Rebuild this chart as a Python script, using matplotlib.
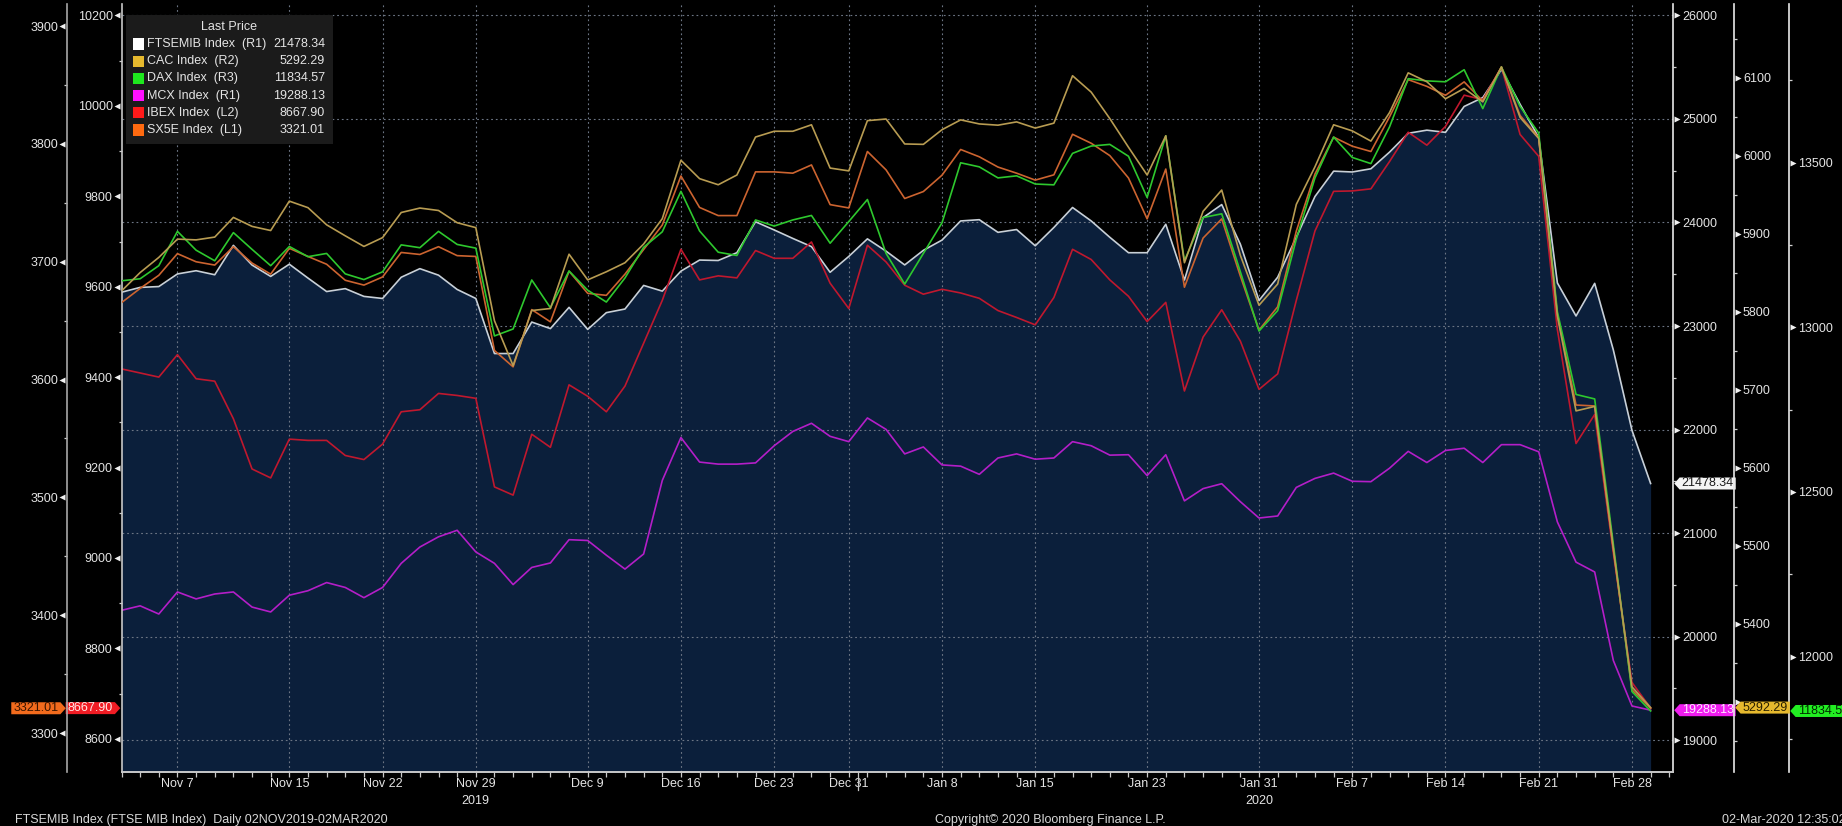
import numpy as np
import pandas as pd
import matplotlib
matplotlib.use("Agg")
import matplotlib.pyplot as plt
import matplotlib.transforms as mtransforms
from matplotlib.path import Path
from matplotlib.patches import Rectangle
from matplotlib.ticker import MultipleLocator

plt.rcParams['font.family'] = ['Liberation Sans', 'DejaVu Sans']

# trading days (Borsa Italiana calendar)
trading = pd.bdate_range('2019-11-04', '2020-03-02')
trading = trading.drop(pd.to_datetime(['2019-12-25', '2019-12-26', '2020-01-01']))

tick_dates = ['2019-11-07', '2019-11-15', '2019-11-22', '2019-11-29', '2019-12-09',
              '2019-12-16', '2019-12-23', '2019-12-31', '2020-01-08', '2020-01-15',
              '2020-01-23', '2020-01-31', '2020-02-07', '2020-02-14', '2020-02-21',
              '2020-02-28']
tick_labels = ['Nov 7', 'Nov 15', 'Nov 22', 'Nov 29', 'Dec 9', 'Dec 16', 'Dec 23',
               'Dec 31', 'Jan 8', 'Jan 15', 'Jan 23', 'Jan 31', 'Feb 7', 'Feb 14',
               'Feb 21', 'Feb 28']
year_dates = ['2019-11-29', '2020-01-31']
year_labels = ['2019', '2020']

ftsemib = [23326, 23373, 23381, 23503, 23534, 23495, 23779, 23589, 23479, 23597,
           23463, 23333, 23361, 23286, 23266, 23471, 23554, 23491, 23353, 23266,
           22734, 22734, 23038, 22975, 23180, 22967, 23129, 23164, 23392, 23337,
           23530, 23637, 23633, 23708, 24007, 23928, 23846, 23767, 23519, 23672,
           23842, 23723, 23590, 23731, 23830, 24015, 24027, 23905, 23932, 23775,
           23952, 24145, 24015, 23857, 23708, 23708, 23983, 23444, 24047, 24173,
           23790, 23247, 23471, 23857, 24251, 24496, 24488, 24519, 24680, 24862,
           24892, 24871, 25121, 25207, 25479, 25142, 24819, 23416, 23097, 23412,
           22769, 21992, 21478.34]

cac = [5826.6, 5850.2, 5869.6, 5893.1, 5892.1, 5895.7, 5920.9, 5909.4, 5904.1, 5941.8,
       5933.4, 5911.4, 5897.3, 5883.7, 5895.0, 5927.2, 5932.9, 5929.8, 5914.1, 5907.8,
       5788.4, 5730.8, 5801.5, 5804.1, 5873.7, 5840.8, 5851.2, 5862.8, 5886.8, 5919.3,
       5994.2, 5970.6, 5962.8, 5975.3, 6024.0, 6031.4, 6031.4, 6039.7, 5984.2, 5980.6,
       6045.0, 6047.1, 6015.1, 6014.6, 6033.4, 6046.0, 6040.8, 6039.2, 6043.4, 6035.5,
       6041.8, 6102.6, 6081.6, 6047.6, 6010.9, 5975.3, 6025.6, 5862.8, 5928.7, 5956.0,
       5872.2, 5808.3, 5835.5, 5937.6, 5985.8, 6039.7, 6031.9, 6018.8, 6055.4, 6106.3,
       6094.9, 6073.1, 6086.3, 6069.1, 6113.8, 6049.1, 6022.1, 5794.2, 5672.8, 5678.5,
       5496.4, 5318.9, 5292.29]

dax = [13140.8, 13147.0, 13186.7, 13290.9, 13233.8, 13201.6, 13287.1, 13236.3, 13186.7, 13245.0,
       13214.0, 13223.9, 13161.9, 13144.5, 13168.1, 13249.9, 13241.3, 13290.9, 13251.2, 13240.0,
       12973.4, 12994.5, 13143.3, 13059.0, 13170.6, 13112.3, 13076.3, 13149.5, 13242.5, 13289.6,
       13412.4, 13292.1, 13227.6, 13217.7, 13325.6, 13307.0, 13325.6, 13339.2, 13254.9, 13320.6,
       13387.6, 13223.9, 13130.9, 13223.9, 13316.9, 13499.2, 13486.8, 13453.3, 13459.5, 13434.7,
       13432.2, 13527.7, 13550.0, 13555.0, 13519.0, 13393.8, 13581.0, 13201.6, 13333.0, 13344.2,
       13168.1, 12988.3, 13050.3, 13267.3, 13453.3, 13577.3, 13515.3, 13496.7, 13608.3, 13754.6,
       13747.8, 13745.1, 13781.7, 13663.7, 13789.9, 13670.5, 13589.1, 13046.6, 12795.7, 12782.1,
       12341.3, 11893.7, 11834.57]

mcx = [20253.0, 20296.4, 20217.4, 20430.5, 20363.4, 20410.8, 20430.5, 20284.5, 20237.2, 20399.0,
       20442.4, 20521.3, 20473.9, 20375.3, 20473.9, 20706.8, 20864.6, 20963.2, 21026.4, 20817.2,
       20706.8, 20501.6, 20667.3, 20710.7, 20935.6, 20927.7, 20785.7, 20651.5, 20797.5, 21507.8,
       21922.1, 21685.4, 21665.6, 21665.6, 21677.5, 21843.2, 21981.3, 22060.2, 21934.0, 21882.7,
       22111.5, 22001.0, 21764.3, 21831.4, 21657.7, 21645.9, 21567.0, 21724.8, 21764.3, 21713.0,
       21724.8, 21882.7, 21843.2, 21752.4, 21756.4, 21555.1, 21756.4, 21310.5, 21428.9, 21476.2,
       21302.6, 21144.8, 21164.5, 21440.7, 21527.5, 21578.8, 21499.9, 21496.0, 21626.2, 21788.9,
       21681.0, 21797.5, 21819.1, 21681.0, 21853.6, 21853.6, 21784.6, 21107.0, 20718.5, 20623.6,
       19769.0, 19328.8, 19288.13]

ibex = [9418.2, 9409.2, 9400.1, 9449.8, 9396.5, 9391.1, 9308.0, 9196.9, 9177.1, 9262.9,
        9260.1, 9260.1, 9226.7, 9217.7, 9252.0, 9323.4, 9327.9, 9364.0, 9359.5, 9353.2,
        9157.2, 9139.1, 9273.7, 9244.8, 9383.0, 9357.7, 9323.4, 9380.3, 9475.1, 9569.9,
        9682.8, 9615.1, 9624.1, 9619.6, 9680.1, 9662.9, 9662.9, 9699.0, 9607.8, 9551.8,
        9691.8, 9654.8, 9603.3, 9583.5, 9594.3, 9586.2, 9574.4, 9547.3, 9532.0, 9515.7,
        9576.2, 9682.8, 9660.2, 9615.1, 9578.9, 9522.9, 9565.4, 9369.4, 9488.6, 9549.1,
        9479.6, 9373.0, 9407.3, 9569.9, 9723.4, 9811.0, 9811.9, 9816.5, 9877.0, 9941.7,
        9913.1, 9954.6, 10023.7, 10013.8, 10086.0, 9936.8, 9888.4, 9505.1, 9253.2, 9317.4,
        9011.1, 8724.6, 8667.90]

sx5e = [3665.3, 3677.4, 3688.5, 3706.9, 3700.0, 3697.2, 3712.8, 3698.9, 3689.5, 3711.4,
        3704.5, 3697.9, 3684.3, 3680.2, 3687.1, 3707.9, 3706.2, 3712.8, 3705.2, 3704.5,
        3624.7, 3610.8, 3659.4, 3649.0, 3692.0, 3673.2, 3671.5, 3689.5, 3710.4, 3731.2,
        3772.8, 3746.1, 3739.2, 3739.2, 3776.3, 3776.3, 3775.2, 3782.2, 3748.5, 3745.7,
        3793.6, 3778.0, 3753.7, 3759.6, 3773.5, 3795.3, 3789.1, 3780.4, 3775.2, 3769.3,
        3773.8, 3808.2, 3800.6, 3790.1, 3771.1, 3736.4, 3778.7, 3678.4, 3720.1, 3736.4,
        3687.8, 3642.0, 3661.8, 3726.0, 3774.5, 3805.8, 3798.1, 3793.6, 3823.1, 3854.6,
        3848.9, 3841.3, 3852.7, 3836.4, 3865.2, 3824.2, 3805.3, 3655.4, 3578.4, 3577.6,
        3456.2, 3336.7, 3321.01]

legend_names = ['FTSEMIB Index  (R1)', 'CAC Index  (R2)', 'DAX Index  (R3)',
                'MCX Index  (R1)', 'IBEX Index  (L2)', 'SX5E Index  (L1)']
legend_values = ['21478.34', '5292.29', '11834.57', '19288.13', '8667.90', '3321.01']
legend_colors = ['#ffffff', '#e6b92e', '#1ee81e', '#ff10ff', '#ff1a1a', '#ff6a10']

W, H = 1842, 826
fig = plt.figure(figsize=(W / 100, H / 100), dpi=100, facecolor='black')


def fx(px):
    return px / W


def fy(py):
    return 1 - py / H


PL, PR, PT, PB = 121.5, 1673, 4, 772
ax = fig.add_axes([fx(PL), fy(PB), (PR - PL) / W, (PB - PT) / H])
ax.set_facecolor('black')
ax_l2 = ax.twinx()
ax_l1 = ax.twinx()
ax_r3 = ax.twinx()
ax_r2 = ax.twinx()
ax.yaxis.tick_right()

x = np.arange(len(trading))
ax.set_xlim(0, 83.2)
ax.set_ylim(18691, 26111)
ax_l1.set_ylim(3266.9, 3918.8)
ax_l2.set_ylim(8526.6, 10225.4)
ax_r2.set_ylim(5209.7, 6194.6)
ax_r3.set_ylim(11649.3, 13981.3)

WIDTH = PR - PL
pos = {'l1': (67 - PL) / WIDTH, 'r2': (1734 - PL) / WIDTH, 'r3': (1789 - PL) / WIDTH}

# spines
for a in (ax, ax_l1, ax_l2, ax_r2, ax_r3):
    for s in a.spines.values():
        s.set_visible(False)
ax.spines['right'].set_visible(True)
ax.spines['right'].set_color('#e8e8e8')
ax.spines['right'].set_linewidth(1.2)
ax.spines['bottom'].set_visible(True)
ax.spines['bottom'].set_color('#c8c8c8')
ax.spines['bottom'].set_linewidth(1.4)
ax_l2.spines['left'].set_visible(True)
ax_l2.spines['left'].set_color('#c8c8c8')
ax_l2.spines['left'].set_linewidth(1.2)
ax_l1.spines['left'].set_visible(True)
ax_l1.spines['left'].set_position(('axes', pos['l1']))
ax_l1.spines['left'].set_color('#a8a8a8')
ax_l1.spines['left'].set_linewidth(1.2)
for a, k in ((ax_r2, 'r2'), (ax_r3, 'r3')):
    a.spines['right'].set_visible(True)
    a.spines['right'].set_position(('axes', pos[k]))
    a.spines['right'].set_color('#e8e8e8')
    a.spines['right'].set_linewidth(1.2)
for a in (ax_l1, ax_l2):
    a.yaxis.tick_left()

# y ticks
yticks = [(ax, 1000, 500), (ax_l1, 100, 50), (ax_l2, 200, 100), (ax_r2, 100, 50), (ax_r3, 500, 250)]
for a, major, minor in yticks:
    a.yaxis.set_major_locator(MultipleLocator(major))
    a.yaxis.set_minor_locator(MultipleLocator(minor))
    a.tick_params(axis='y', which='major', length=0, pad=6.4, labelsize=9, labelcolor='#e4e4e4')
    a.tick_params(axis='y', which='minor', length=2.4, width=0.9, color='#d0d0d0')

# the 5300 label on R2 sits under the CAC last-price tag
r2_ticks = list(range(5300, 6101, 100))
ax_r2.set_yticks(r2_ticks)
ax_r2.set_yticklabels(['' if v == 5300 else str(v) for v in r2_ticks])

# triangle tick markers
tri_specs = [(ax, 1.0, '>', 4, range(19000, 26001, 1000)),
             (ax_r2, pos['r2'], '>', 4, range(5300, 6101, 100)),
             (ax_r3, pos['r3'], '>', 4, range(12000, 13501, 500)),
             (ax_l2, 0.0, '<', -5, range(8600, 10201, 200)),
             (ax_l1, pos['l1'], '<', -5, range(3300, 3901, 100))]
for a, frac, mk, dx, vals in tri_specs:
    vals = list(vals)
    off = mtransforms.ScaledTranslation(dx / 100, 0, fig.dpi_scale_trans)
    a.plot([frac] * len(vals), vals, ls='none', marker=mk, ms=4.6, color='#f0f0f0',
           mec='none', transform=a.get_yaxis_transform() + off, clip_on=False, zorder=4)

# x axis
tick_pos = trading.get_indexer(pd.to_datetime(tick_dates))
ax.set_xticks(tick_pos)
ax.set_xticklabels(tick_labels)
ax.set_xticks(np.arange(0, 84), minor=True)
ax.tick_params(axis='x', which='both', length=3.6, width=0.9, color='#c8c8c8',
               labelsize=9, labelcolor='#e4e4e4', pad=1.0)
for d, lab in zip(year_dates, year_labels):
    ax.text(trading.get_loc(pd.Timestamp(d)), -0.038, lab, transform=ax.get_xaxis_transform(),
            ha='center', va='center', fontsize=9, color='#e4e4e4')
sep = trading.get_loc(pd.Timestamp('2020-01-02')) - 0.5
ax.plot([sep, sep], [0, -0.024], transform=ax.get_xaxis_transform(), color='#c8c8c8',
        lw=0.9, clip_on=False)

# grid, fill, lines
ax.set_axisbelow('line')
ax.grid(True, which='major', color='#6c7584', ls=(0, (1.6, 2.6)), lw=0.8)
ax.fill_between(x, ftsemib, 18000, color='#0b1f3b', lw=0, zorder=1)
ax.plot(x, mcx, color='#b41ec8', lw=1.2, zorder=2)
ax.plot(x, ftsemib, color='#c8d0d8', lw=1.2, zorder=2.2)
ax_l2.plot(x, ibex, color='#c0182e', lw=1.2)
ax_l1.plot(x, sx5e, color='#cc6430', lw=1.2)
ax_r3.plot(x, dax, color='#2ec82e', lw=1.2)
ax_r2.plot(x, cac, color='#b89c52', lw=1.2)


# last-price tags
def tag_shape(direction):
    def shape(x0, y0, width, height, mutation_size):
        padx = 2.0
        x0 -= padx
        x1 = x0 + width + 2 * padx
        y1 = y0 + height
        d = height * 0.45
        ym = (y0 + y1) / 2
        if direction == 'left':
            verts = [(x0, y0), (x1, y0), (x1, y1), (x0, y1), (x0 - d, ym), (x0, y0)]
        else:
            verts = [(x0, y0), (x1, y0), (x1 + d, ym), (x1, y1), (x0, y1), (x0, y0)]
        return Path(verts, closed=True)
    return shape


tags = [(ax, 1.0, 'left', 21478.34, '21478.34', '#f4f4f4', '#1a1a1a'),
        (ax, 1.0, 'left', 19288.13, '19288.13', '#f01cf0', '#ffe6ff'),
        (ax_r2, pos['r2'], 'left', 5292.29, '5292.29', '#e6b92e', '#2a2000'),
        (ax_r3, pos['r3'], 'left', 11834.57, '11834.57', '#22ee22', '#002a00'),
        (ax_l2, 0.0, 'right', 8667.90, '8667.90', '#f01c24', '#ffe6e6'),
        (ax_l1, pos['l1'], 'right', 3321.01, '3321.01', '#f26b1d', '#3a1500')]
for a, frac, direction, val, txt, fc, tc in tags:
    off = 6.2 if direction == 'left' else -6.2
    a.annotate(txt, xy=(frac, val), xycoords=a.get_yaxis_transform(),
               xytext=(off, 0), textcoords='offset points',
               ha='left' if direction == 'left' else 'right', va='center',
               fontsize=9, color=tc, annotation_clip=False, zorder=6,
               bbox=dict(boxstyle=tag_shape(direction), fc=fc, ec='none'))

# legend box
fig.add_artist(Rectangle((fx(126), fy(144)), (333 - 126) / W, (144 - 15) / H,
                         transform=fig.transFigure, facecolor='#1b1b1b', edgecolor='none', zorder=5))
fig.text(fx(229), fy(27), 'Last Price', ha='center', va='center', fontsize=9,
         color='#e4e4e4', zorder=6)
for i, (name, val, col) in enumerate(zip(legend_names, legend_values, legend_colors)):
    yc = 44 + 17.2 * i
    fig.add_artist(Rectangle((fx(133), fy(yc + 5.5)), 11 / W, 11 / H, transform=fig.transFigure,
                             facecolor=col, edgecolor='none', zorder=6))
    fig.text(fx(147), fy(yc), name, ha='left', va='center', fontsize=9, color='#e4e4e4', zorder=6)
    fig.text(fx(325), fy(yc), val, ha='right', va='center', fontsize=9, color='#e4e4e4', zorder=6)

# footer
fig.text(fx(15), fy(820), 'FTSEMIB Index (FTSE MIB Index)  Daily 02NOV2019-02MAR2020',
         ha='left', va='center', fontsize=9, color='#d8d8d8')
fig.text(fx(1050), fy(820), 'Copyright\u00a9 2020 Bloomberg Finance L.P.',
         ha='center', va='center', fontsize=9, color='#d8d8d8')
fig.text(fx(1722), fy(820), '02-Mar-2020 12:35:02', ha='left', va='center',
         fontsize=9, color='#d8d8d8')

fig.savefig('out.png', dpi=100, facecolor='black')
